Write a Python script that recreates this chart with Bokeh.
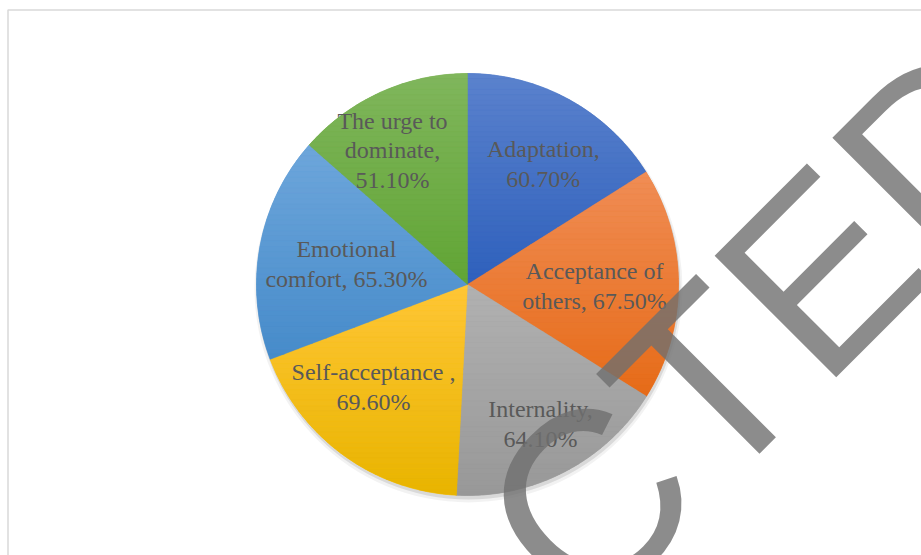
import numpy as np
from bokeh.plotting import figure
from bokeh.models import Range1d, ColumnDataSource
from bokeh.embed import file_html
from bokeh.resources import INLINE
from bokeh.core.properties import value

# ---- data ----
categories = ["Adaptation", "Acceptance of others", "Internality",
              "Self-acceptance ", "Emotional comfort", "The urge to dominate"]
values = [60.7, 67.5, 64.1, 69.6, 65.3, 51.1]
label_texts = ["Adaptation,\n60.70%", "Acceptance of\nothers, 67.50%",
               "Internality,\n64.10%", "Self-acceptance ,\n69.60%",
               "Emotional\ncomfort, 65.30%", "The urge to\ndominate,\n51.10%"]
watermark = "CTED"

# ---- style / layout ----
colors = ["#4472c4", "#ed7d31", "#a5a5a5", "#ffc000", "#5b9bd5", "#70ad47"]
top_colors = ["#5b82cd", "#f08d55", "#b1b1b1", "#ffc636", "#6ea6db", "#80b65c"]
bot_colors = ["#2e60bc", "#e66b18", "#989898", "#e8b400", "#468bca", "#61a535"]
label_r = [0.675, 0.602, 0.746, 0.659, 0.582, 0.728]
label_dang = [3.3, 0.8, -0.1, 6.4, -0.7, -4.9]

W, H = 921, 555
cx, cy, R = 467, H - 284, 211

vals = np.array(values)
frac = vals / vals.sum()
t_end = np.cumsum(frac) * 2 * np.pi
t_start = t_end - frac * 2 * np.pi

p = figure(width=W, height=H, x_range=Range1d(0, W), y_range=Range1d(0, H),
           output_backend="svg", toolbar_location=None, min_border=0,
           x_axis_location=None, y_axis_location=None)
p.grid.visible = False
p.outline_line_color = None
p.background_fill_color = "white"
p.border_fill_color = "white"

# chart area border
p.quad(left=[7.5], right=[W + 50], bottom=[-50], top=[H - 9.5],
       fill_color=None, line_color="#d9d9d9", line_width=1.5)

# shadow
p.circle(x=[cx + 1], y=[cy - 4], radius=R + 3, fill_color="black",
         fill_alpha=0.05, line_color=None)
p.circle(x=[cx + 1], y=[cy - 3], radius=R + 1, fill_color="black",
         fill_alpha=0.10, line_color=None)

# base wedges
src = ColumnDataSource(dict(
    cat=categories, val=values, color=colors,
    start=np.pi / 2 - t_start, end=np.pi / 2 - t_end))
p.wedge(x=cx, y=cy, radius=R, start_angle="start", end_angle="end",
        direction="clock", fill_color="color", line_color="color",
        line_width=0.5, source=src)


# gradient overlay: each slice split in horizontal bands
def hex2rgb(h):
    h = h.lstrip("#")
    return np.array([int(h[i:i + 2], 16) for i in (0, 2, 4)], float)


def clip_half(pts, yc, keep_ge):
    out = []
    n = len(pts)
    for i in range(n):
        P, Q = pts[i], pts[(i + 1) % n]
        inP = P[1] >= yc if keep_ge else P[1] <= yc
        inQ = Q[1] >= yc if keep_ge else Q[1] <= yc
        if inP:
            out.append(P)
        if inP != inQ:
            t = (yc - P[1]) / (Q[1] - P[1])
            out.append((P[0] + t * (Q[0] - P[0]), yc))
    return out


bx, by, bc = [], [], []
NB = 40
for i in range(len(values)):
    th = np.linspace(t_start[i], t_end[i], 120)
    poly = [(cx, cy)] + [(cx + R * np.sin(a), cy + R * np.cos(a)) for a in th]
    ys_all = [q[1] for q in poly]
    ytop, ybot = max(ys_all), min(ys_all)
    c0, c1 = hex2rgb(top_colors[i]), hex2rgb(bot_colors[i])
    edges = np.linspace(ytop, ybot, NB + 1)
    for k in range(NB):
        seg = clip_half(poly, edges[k], False)
        seg = clip_half(seg, edges[k + 1], True) if seg else seg
        if len(seg) < 3:
            continue
        t = (k + 0.5) / NB
        c = (1 - t) * c0 + t * c1
        bx.append([q[0] for q in seg])
        by.append([q[1] for q in seg])
        bc.append("#%02x%02x%02x" % tuple(int(round(v)) for v in c))
p.patches(xs=bx, ys=by, fill_color=bc, line_color=bc, line_width=0.4)

# data labels
mid = (t_start + t_end) / 2 + np.radians(label_dang)
lx = cx + np.array(label_r) * R * np.sin(mid)
ly = cy + np.array(label_r) * R * np.cos(mid)
p.text(x=lx, y=ly, text=label_texts, text_font=value("Liberation Serif"),
       text_font_size="24px", text_color="#595959", text_align="center",
       text_baseline="middle", text_line_height=1.125)

# watermark
p.text(x=[765], y=[H - 325], text=[watermark], angle=np.pi / 4,
       text_font=value("Liberation Sans"), text_font_size="250px",
       text_color="#6f6f6f", text_alpha=0.8, text_align="center",
       text_baseline="alphabetic")

open("out.html", "w").write(file_html(p, INLINE))
